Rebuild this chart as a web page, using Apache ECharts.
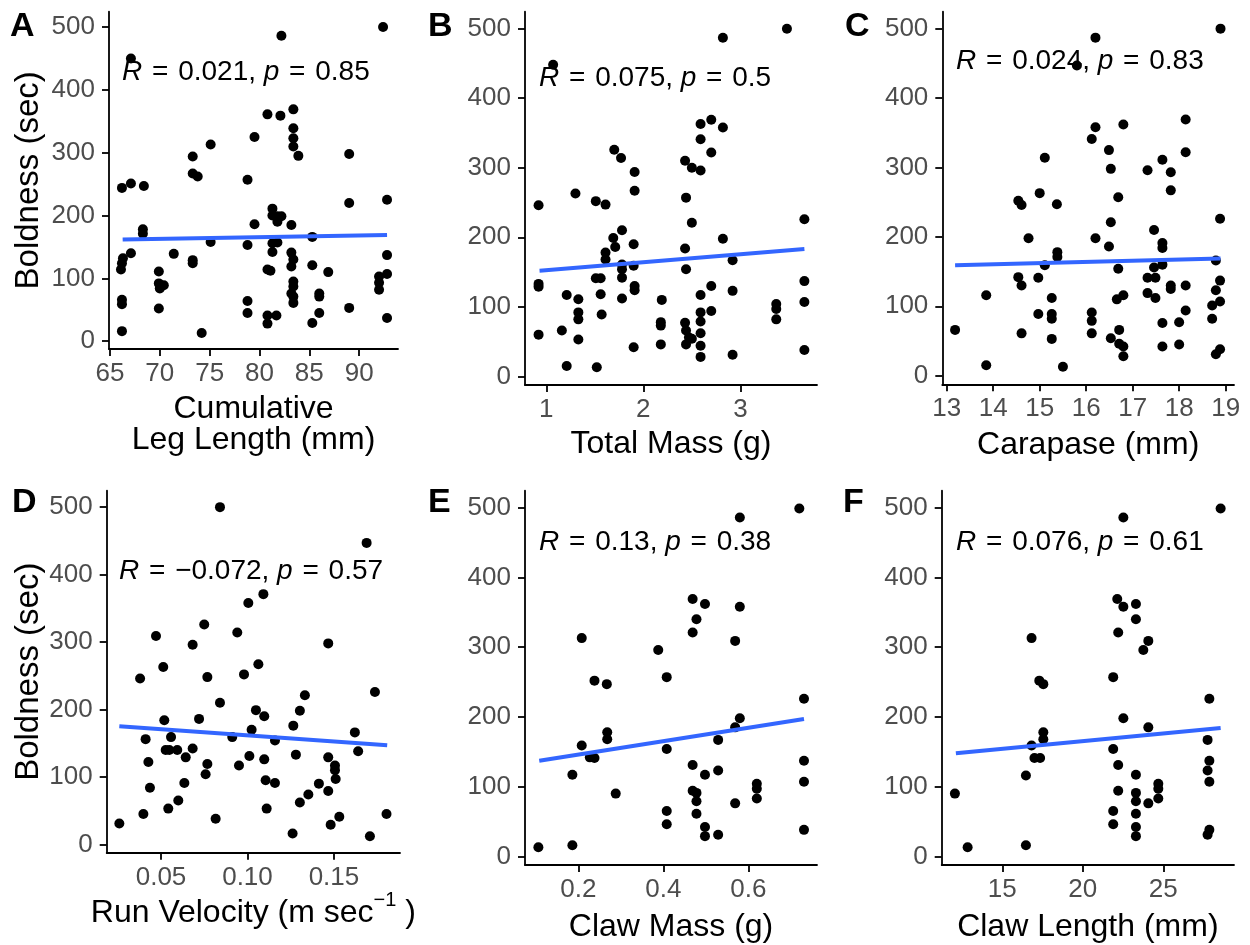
<!DOCTYPE html>
<html>
<head>
<meta charset="utf-8">
<script src="https://cdn.jsdelivr.net/npm/echarts@6/dist/echarts.min.js"></script>
<style>
  html, body { margin: 0; padding: 0; background: #fff; }
  #chart { width: 1250px; height: 945px; }
</style>
</head>
<body>
<div id="chart"></div>
<script>
// Boldness (sec) against each morphometric trait
const legLength = [
  [92.4,500],[82.2,486],[67.1,450],[66.2,244],[67.1,251],[68.4,247],
  [66.3,132],[66.2,124],[66.1,114],[67.1,140],[66.2,66],[66.2,59],[66.2,16],
  [68.3,178],[68.3,171],[69.9,111],[69.9,92],[70.4,89],[70.0,84],[69.9,52],
  [71.4,139],[73.3,294],[73.3,267],[73.8,262],[73.3,129],[73.3,124],[74.2,13],
  [75.1,313],[75.1,158],[78.8,257],[78.8,153],[78.8,64],[78.8,45],[79.5,325],[79.5,186],
  [80.8,361],[80.8,114],[81.1,112],[80.8,41],[80.8,28],[82.1,359],
  [81.3,211],[81.3,200],[81.8,199],[82.2,199],[81.8,190],[81.3,156],[81.3,142],[81.8,157],[81.7,41],
  [83.4,369],[83.4,339],[83.4,323],[83.4,310],[83.9,295],
  [83.2,185],[83.2,141],[83.4,130],[83.2,119],[83.4,95],[83.4,87],[83.2,76],[83.4,71],[83.4,61],
  [85.3,166],[85.3,121],[85.3,29],[86.0,76],[86.0,71],[86.0,45],[86.9,110],
  [89.0,298],[89.0,220],[89.0,53],[92.0,103],[92.0,93],[92.0,82],
  [92.8,225],[92.8,137],[92.8,107],[92.8,37]
];
const totalMass = [
  [3.48,500],[2.82,487],[1.07,448],[0.92,246],[0.92,133],[0.92,129],[0.92,60],
  [1.16,66],[1.21,117],[1.21,15],[1.30,263],[1.33,111],[1.33,92],[1.33,82],[1.33,53],
  [1.51,252],[1.61,247],[1.51,141],[1.56,141],[1.56,118],[1.57,89],[1.52,13],
  [1.61,178],[1.61,168],[1.70,326],[1.77,314],[1.69,199],[1.71,186],[1.78,210],
  [1.78,161],[1.78,154],[1.78,142],[1.78,112],
  [1.91,294],[1.91,267],[1.90,190],[1.90,159],[1.91,130],[1.91,124],[1.90,42],
  [2.19,110],[2.18,78],[2.18,73],[2.18,46],
  [2.43,310],[2.44,257],[2.50,221],[2.43,184],[2.44,154],
  [2.43,77],[2.44,66],[2.47,56],[2.50,54],[2.44,46],[2.50,300],[2.59,296],
  [2.59,363],[2.59,341],[2.70,369],[2.82,358],[2.70,322],
  [2.59,117],[2.59,92],[2.59,79],[2.59,62],[2.59,44],[2.59,28],
  [2.82,198],[2.70,130],[2.70,94],[2.92,167],[2.92,123],[2.92,31],
  [3.37,104],[3.37,97],[3.37,82],[3.66,226],[3.66,137],[3.66,107],[3.66,38]
];
const carapace = [
  [18.89,500],[16.2,487],[15.8,447],[13.18,66],[13.85,116],[13.85,15],
  [14.54,252],[14.61,246],[14.76,198],[14.54,142],[14.61,130],[14.61,61],
  [15.0,263],[15.11,314],[15.37,247],[14.97,141],[14.97,89],[15.11,159],
  [15.26,112],[15.26,89],[15.26,82],[15.26,53],[15.38,178],[15.38,171],[15.5,13],
  [16.12,341],[16.2,358],[16.2,198],[16.12,91],[16.12,79],[16.12,61],
  [16.49,325],[16.53,298],[16.53,221],[16.49,186],[16.53,54],
  [16.69,257],[16.69,154],[16.66,110],[16.8,116],[16.71,66],[16.71,46],[16.8,42],[16.8,28],[16.8,362],
  [17.32,296],[17.32,141],[17.32,119],[17.49,141],[17.46,210],[17.46,156],[17.49,112],
  [17.64,311],[17.64,191],[17.64,184],[17.64,160],[17.64,76],[17.64,42],
  [17.82,293],[17.82,267],[17.82,130],[17.82,125],[18.0,77],[18.0,45],
  [18.14,369],[18.14,322],[18.14,130],[18.14,94],
  [18.71,101],[18.71,82],[18.79,123],[18.79,166],
  [18.88,226],[18.88,137],[18.88,107],[18.88,38],[18.79,31]
];
const runVelocity = [
  [0.0259,31],[0.0379,246],[0.0398,45],[0.0411,156],[0.0427,122],[0.0436,84],
  [0.0471,309],[0.0513,263],[0.0519,184],[0.0527,140],[0.0558,159],[0.0548,140],[0.0542,53],
  [0.0594,140],[0.0600,65],[0.0643,129],[0.0635,91],[0.0683,296],[0.0683,142],[0.0720,186],
  [0.0750,326],[0.0768,248],[0.0768,119],[0.0758,104],[0.0816,38],[0.0841,210],[0.0841,500],
  [0.0912,159],[0.0941,314],[0.0951,117],[0.0980,252],[0.1005,358],[0.1011,131],[0.1024,170],
  [0.1049,199],[0.1063,267],[0.1092,371],[0.1097,190],[0.1097,126],[0.1105,95],[0.1111,53],
  [0.1159,91],[0.1159,154],[0.1265,176],[0.1261,16],[0.1280,133],[0.1303,198],[0.1303,62],
  [0.1332,221],[0.1352,74],[0.1413,90],[0.1467,298],[0.1467,129],[0.1467,79],[0.1481,29],
  [0.1506,117],[0.1506,110],[0.1510,97],[0.1531,41],[0.1621,166],[0.1640,138],
  [0.1689,447],[0.1708,12],[0.1737,226],[0.1804,45]
];
const clawMass = [
  [0.72,499],[0.58,486],[0.106,13],[0.186,16],[0.186,117],[0.208,313],[0.208,159],
  [0.227,142],[0.238,141],[0.238,252],[0.267,247],[0.268,178],[0.268,168],[0.288,90],
  [0.388,296],[0.408,257],[0.408,154],[0.408,65],[0.408,46],
  [0.469,369],[0.469,321],[0.478,340],[0.498,362],
  [0.469,131],[0.469,94],[0.478,91],[0.478,79],[0.478,61],[0.498,117],
  [0.498,42],[0.498,29],[0.529,31],[0.529,167],[0.529,123],
  [0.569,309],[0.58,358],[0.58,198],[0.569,185],[0.569,76],
  [0.62,104],[0.62,97],[0.62,83],[0.731,226],[0.731,137],[0.731,107],[0.731,38]
];
const clawLength = [
  [28.56,499],[22.52,486],[12.06,90],[12.85,13],[16.82,313],[16.47,116],[16.47,16],
  [17.3,252],[17.55,247],[16.82,159],[17.0,141],[17.35,141],[17.55,178],[17.55,168],
  [22.14,369],[22.2,321],[22.52,358],[23.3,362],[23.3,340],[23.76,296],[24.07,309],
  [21.89,257],[22.52,198],[24.07,185],[21.89,154],[22.2,131],[22.2,94],[21.89,65],[21.89,46],
  [23.3,117],[23.3,91],[23.3,79],[23.3,61],[23.3,42],[23.3,29],[24.07,76],
  [24.69,104],[24.69,97],[24.69,83],
  [27.86,226],[27.75,167],[27.86,137],[27.75,123],[27.86,107],[27.86,38],[27.75,31]
];

// fitted lines (ends)
const fitLeg = [[66.27,162],[92.8,169]];
const fitMass = [[0.93,152],[3.66,183]];
const fitCarapace = [[13.18,159],[18.89,169]];
const fitVelocity = [[0.0259,175],[0.1808,147]];
const fitClawMass = [[0.108,137],[0.731,197]];
const fitClawLength = [[12.12,148],[28.56,184]];

const statLabels = [
  '{i|R} {eq|=} 0.021, {i|p} {eq|=} 0.85',
  '{i|R} {eq|=} 0.075, {i|p} {eq|=} 0.5',
  '{i|R} {eq|=} 0.024, {i|p} {eq|=} 0.83',
  '{i|R} {eq|=} \u22120.072, {i|p} {eq|=} 0.57',
  '{i|R} {eq|=} 0.13, {i|p} {eq|=} 0.38',
  '{i|R} {eq|=} 0.076, {i|p} {eq|=} 0.61'
];
const panelLetters = ['A', 'B', 'C', 'D', 'E', 'F'];
const xTitles = [
  'Cumulative\nLeg Length (mm)', 'Total Mass (g)', 'Carapase (mm)',
  'Run Velocity (m sec{sup|\u22121} )', 'Claw Mass (g)', 'Claw Length (mm)'
];
const xTicks = [
  [65, 70, 75, 80, 85, 90], [1, 2, 3], [13, 14, 15, 16, 17, 18, 19],
  [0.05, 0.10, 0.15], [0.2, 0.4, 0.6], [15, 20, 25]
];
const yTicks = [0, 100, 200, 300, 400, 500];

const points = [legLength, totalMass, carapace, runVelocity, clawMass, clawLength];
const fits = [fitLeg, fitMass, fitCarapace, fitVelocity, fitClawMass, fitClawLength];

// layout: plot boxes in pixels, axis extents, label spots
const layout = [
  { left: 109, top: 11.7, width: 289, height: 337.3, xr: [64.9, 93.9], gap: 76, stat: [122, 72], letter: [10, 27], yTitle: 80 },
  { left: 525, top: 11.7, width: 292, height: 373.3, xr: [0.78, 3.79], gap: 59, stat: [539, 78], letter: [428, 27] },
  { left: 942.3, top: 11.7, width: 291.7, height: 372.6, xr: [12.905, 19.18], gap: 61, stat: [956, 61], letter: [845, 27] },
  { left: 106.7, top: 490.7, width: 293.3, height: 362, xr: [0.0186, 0.1882], gap: 60, stat: [119, 571], letter: [12, 503], yTitle: 78, dec: 2 },
  { left: 525, top: 490.7, width: 292, height: 374.3, xr: [0.0745, 0.7616], gap: 62, stat: [539, 542], letter: [428, 503], dec: 1 },
  { left: 941.7, top: 490.7, width: 292.3, height: 374.3, xr: [11.24, 29.39], gap: 62, stat: [956, 542], letter: [843, 503] }
];
const yRange = [-12.4, 524.4];

const FONT = 'Liberation Sans, Arial, sans-serif';
const axisLineStyle = { color: '#000', width: 1.8 };

const grid = [], xAxis = [], yAxis = [], series = [], graphic = [];
layout.forEach(function (p, i) {
  grid.push({ left: p.left, top: p.top, width: p.width, height: p.height, containLabel: false, outerBoundsMode: 'none' });
  xAxis.push({
    type: 'value', gridIndex: i, min: p.xr[0], max: p.xr[1],
    axisLine: { show: true, onZero: false, lineStyle: axisLineStyle },
    axisTick: { show: true, length: 7, lineStyle: axisLineStyle, customValues: xTicks[i] },
    axisLabel: {
      color: '#4D4D4D', fontSize: 26, fontFamily: FONT, margin: 12, customValues: xTicks[i],
      formatter: function (v) { return p.dec ? v.toFixed(p.dec) : String(v); }
    },
    splitLine: { show: false },
    name: xTitles[i], nameLocation: 'middle', nameGap: p.gap, nameMoveOverlap: false,
    nameTextStyle: {
      color: '#000', fontSize: 32, fontFamily: FONT, lineHeight: 31, verticalAlign: 'middle',
      rich: { sup: { fontSize: 20, fontFamily: FONT, color: '#000', verticalAlign: 'top', lineHeight: 44 } }
    }
  });
  yAxis.push({
    type: 'value', gridIndex: i, min: yRange[0], max: yRange[1],
    axisLine: { show: true, onZero: false, lineStyle: axisLineStyle },
    axisTick: { show: true, length: 7, lineStyle: axisLineStyle, customValues: yTicks },
    axisLabel: { color: '#4D4D4D', fontSize: 26, fontFamily: FONT, margin: 14, customValues: yTicks },
    splitLine: { show: false },
    name: p.yTitle ? 'Boldness (sec)' : '', nameLocation: 'middle', nameGap: p.yTitle || 0, nameMoveOverlap: false,
    nameTextStyle: { color: '#000', fontSize: 33, fontFamily: FONT, verticalAlign: 'middle' }
  });
  series.push({
    type: 'scatter', xAxisIndex: i, yAxisIndex: i, data: points[i],
    symbolSize: 10, itemStyle: { color: '#000', opacity: 1 }, silent: true, z: 2
  });
  series.push({
    type: 'line', xAxisIndex: i, yAxisIndex: i, data: fits[i],
    symbol: 'none', lineStyle: { color: '#3366FF', width: 4 }, silent: true, z: 3
  });
  graphic.push({
    type: 'text', x: p.stat[0], y: p.stat[1], z: 10,
    style: {
      text: statLabels[i], fill: '#000', fontSize: 28, fontFamily: FONT,
      align: 'left', verticalAlign: 'middle',
      rich: {
        i: { fontStyle: 'italic', fontSize: 28, fontFamily: FONT, fill: '#000' },
        eq: { fontSize: 28, fontFamily: FONT, fill: '#000', padding: [0, 2, 0, 2] }
      }
    }
  });
  graphic.push({
    type: 'text', x: p.letter[0], y: p.letter[1], z: 10,
    style: {
      text: panelLetters[i], fill: '#000', fontSize: 34, fontWeight: 'bold', fontFamily: FONT,
      align: 'left', verticalAlign: 'middle'
    }
  });
});

const myChart = echarts.init(document.getElementById('chart'));
myChart.setOption({
  backgroundColor: '#fff',
  animation: false,
  grid: grid,
  xAxis: xAxis,
  yAxis: yAxis,
  series: series,
  graphic: graphic
});
</script>
</body>
</html>
